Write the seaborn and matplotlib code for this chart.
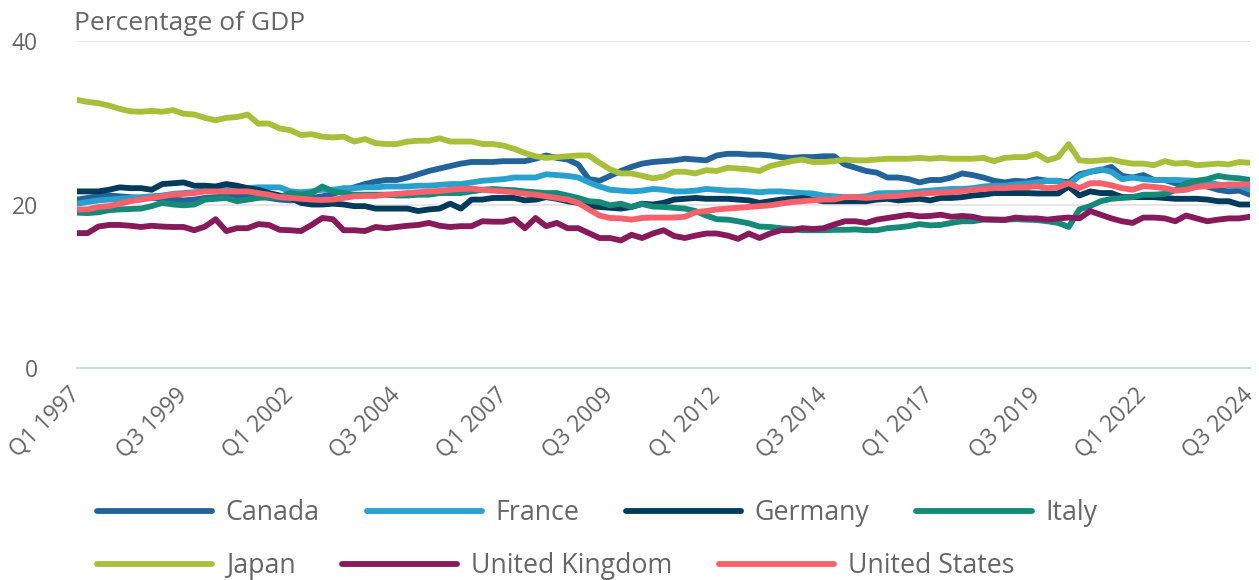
import numpy as np
import pandas as pd
import matplotlib
matplotlib.use("Agg")
import matplotlib.pyplot as plt
import seaborn as sns
from matplotlib.lines import Line2D

# ---------------- data ----------------
quarters = [f"Q{q} {y}" for y in range(1997, 2025) for q in (1, 2, 3, 4)][:111]

countries = ["Canada", "France", "Germany", "Italy", "Japan", "United Kingdom", "United States"]
colors = ["#23639a", "#29a1cf", "#003b5c", "#158a78", "#a8bf3a", "#871a5a", "#f6616b"]

tick_labels = ["Q1 1997", "Q3 1999", "Q1 2002", "Q3 2004", "Q1 2007", "Q3 2009",
               "Q1 2012", "Q3 2014", "Q1 2017", "Q3 2019", "Q1 2022", "Q3 2024"]

canada = [20.6, 20.8, 21.0, 21.1, 21.0, 20.9, 20.8, 20.8, 20.7, 20.6,
          20.5, 20.6, 20.8, 20.9, 21.0, 21.0, 21.1, 21.0, 20.8, 20.6,
          20.5, 20.6, 20.8, 21.0, 21.3, 21.7, 22.1, 22.5, 22.8, 23.0,
          23.0, 23.3, 23.7, 24.1, 24.4, 24.7, 25.0, 25.2, 25.2, 25.2,
          25.3, 25.3, 25.3, 25.6, 26.0, 25.7, 25.5, 24.9, 23.1, 22.9,
          23.5, 24.1, 24.6, 25.0, 25.2, 25.3, 25.4, 25.6, 25.5, 25.4,
          26.0, 26.2, 26.2, 26.1, 26.1, 26.0, 25.8, 25.7, 25.8, 25.8,
          25.9, 25.9, 24.9, 24.5, 24.1, 23.9, 23.3, 23.3, 23.1, 22.7,
          23.0, 23.0, 23.3, 23.8, 23.6, 23.3, 22.9, 22.7, 22.9, 22.8,
          23.1, 22.9, 22.9, 22.7, 23.7, 24.0, 24.2, 24.6, 23.5, 23.3,
          23.6, 23.0, 23.0, 22.6, 22.3, 22.4, 22.2, 21.8, 21.6, 21.7, 21.2]

france = [20.1, 20.3, 20.5, 20.6, 20.7, 20.8, 20.9, 21.0, 21.1, 21.3,
          21.4, 21.5, 21.7, 21.8, 21.9, 22.0, 22.0, 22.1, 22.1, 22.1,
          21.6, 21.5, 21.6, 21.8, 21.8, 22.0, 22.0, 22.1, 22.1, 22.2,
          22.2, 22.2, 22.3, 22.3, 22.4, 22.5, 22.5, 22.7, 22.9, 23.0,
          23.1, 23.3, 23.3, 23.3, 23.7, 23.6, 23.5, 23.3, 22.7, 22.2,
          21.8, 21.7, 21.6, 21.7, 21.9, 21.8, 21.6, 21.6, 21.7, 21.9,
          21.8, 21.7, 21.7, 21.6, 21.5, 21.6, 21.6, 21.5, 21.4, 21.35,
          21.1, 21.0, 20.9, 20.9, 21.0, 21.35, 21.4, 21.4, 21.45, 21.6,
          21.7, 21.8, 21.9, 21.9, 22.0, 22.2, 22.3, 22.3, 22.45, 22.55,
          22.7, 22.9, 22.9, 22.45, 23.5, 24.0, 24.3, 24.0, 23.1, 23.3,
          23.1, 23.0, 23.0, 23.0, 22.95, 22.9, 22.7, 22.45, 22.3, 22.3, 21.8]

germany = [21.6, 21.6, 21.6, 21.8, 22.1, 22.0, 22.0, 21.8, 22.5, 22.6,
           22.7, 22.3, 22.3, 22.2, 22.5, 22.3, 22.0, 21.8, 21.4, 21.1,
           20.8, 20.2, 20.0, 20.0, 20.1, 20.0, 19.8, 19.8, 19.5, 19.5,
           19.5, 19.5, 19.2, 19.4, 19.5, 20.1, 19.5, 20.6, 20.6, 20.8,
           20.8, 20.8, 20.5, 20.6, 20.9, 20.7, 20.4, 20.2, 19.8, 19.7,
           19.6, 19.5, 19.7, 20.1, 20.0, 20.2, 20.6, 20.7, 20.8, 20.7,
           20.7, 20.7, 20.6, 20.5, 20.2, 20.4, 20.6, 20.7, 20.8, 20.6,
           20.4, 20.4, 20.4, 20.4, 20.4, 20.6, 20.7, 20.5, 20.6, 20.7,
           20.5, 20.8, 20.8, 20.9, 21.1, 21.2, 21.4, 21.4, 21.4, 21.4,
           21.35, 21.35, 21.35, 22.2, 21.1, 21.6, 21.4, 21.4, 20.9, 20.9,
           20.9, 20.9, 20.8, 20.7, 20.7, 20.7, 20.6, 20.4, 20.4, 20.0, 20.0]

italy = [19.0, 18.95, 19.05, 19.3, 19.4, 19.45, 19.5, 19.8, 20.2, 20.0,
         19.9, 20.0, 20.6, 20.7, 20.8, 20.4, 20.6, 20.8, 20.9, 20.9,
         21.4, 21.2, 21.4, 22.2, 21.6, 21.4, 21.2, 21.2, 21.2, 21.2,
         21.1, 21.1, 21.2, 21.2, 21.4, 21.4, 21.4, 21.6, 21.8, 21.9,
         21.8, 21.75, 21.6, 21.5, 21.4, 21.4, 21.1, 20.8, 20.4, 20.3,
         19.9, 20.1, 19.7, 20.05, 19.75, 19.7, 19.6, 19.5, 19.2, 18.65,
         18.2, 18.15, 17.95, 17.7, 17.3, 17.25, 17.1, 17.0, 16.85, 16.85,
         16.85, 16.9, 16.9, 16.95, 16.85, 16.85, 17.1, 17.2, 17.35, 17.6,
         17.45, 17.5, 17.75, 17.95, 17.95, 18.15, 18.15, 18.15, 18.2, 18.15,
         18.1, 17.95, 17.75, 17.25, 19.4, 19.8, 20.4, 20.7, 20.8, 20.9,
         21.2, 21.2, 21.3, 21.75, 22.6, 22.9, 23.1, 23.5, 23.3, 23.2, 23.0]

japan = [32.8, 32.55, 32.4, 32.1, 31.7, 31.4, 31.35, 31.45, 31.35, 31.55,
         31.1, 31.0, 30.6, 30.3, 30.6, 30.7, 31.0, 29.9, 29.9, 29.3,
         29.1, 28.5, 28.6, 28.3, 28.2, 28.3, 27.7, 28.0, 27.5, 27.4,
         27.4, 27.7, 27.8, 27.8, 28.1, 27.7, 27.7, 27.7, 27.4, 27.4,
         27.2, 26.8, 26.3, 25.9, 25.7, 25.8, 25.9, 26.0, 26.0, 25.1,
         24.3, 23.8, 23.8, 23.5, 23.2, 23.4, 24.0, 24.0, 23.8, 24.2,
         24.1, 24.5, 24.4, 24.3, 24.1, 24.7, 25.0, 25.3, 25.5, 25.2,
         25.2, 25.3, 25.5, 25.4, 25.4, 25.5, 25.6, 25.6, 25.6, 25.7,
         25.6, 25.7, 25.6, 25.6, 25.6, 25.7, 25.3, 25.7, 25.8, 25.8,
         26.2, 25.4, 25.8, 27.4, 25.4, 25.3, 25.4, 25.5, 25.2, 25.0,
         25.0, 24.8, 25.3, 25.0, 25.1, 24.8, 24.9, 25.0, 24.9, 25.2, 25.1]

uk = [16.5, 16.5, 17.3, 17.5, 17.5, 17.4, 17.25, 17.4, 17.3, 17.25,
      17.25, 16.85, 17.3, 18.2, 16.75, 17.1, 17.1, 17.6, 17.5, 16.9,
      16.85, 16.75, 17.5, 18.35, 18.2, 16.85, 16.85, 16.75, 17.25, 17.1,
      17.25, 17.4, 17.5, 17.75, 17.4, 17.25, 17.35, 17.35, 17.95, 17.9,
      17.9, 18.2, 17.1, 18.35, 17.35, 17.75, 17.1, 17.1, 16.5, 15.9,
      15.9, 15.6, 16.3, 15.9, 16.45, 16.85, 16.15, 15.9, 16.2, 16.45,
      16.45, 16.2, 15.8, 16.45, 15.9, 16.45, 16.85, 16.85, 17.1, 17.0,
      17.1, 17.55, 17.95, 17.95, 17.75, 18.15, 18.35, 18.55, 18.75, 18.55,
      18.6, 18.75, 18.5, 18.6, 18.5, 18.2, 18.15, 18.1, 18.4, 18.3,
      18.3, 18.15, 18.3, 18.4, 18.3, 19.2, 18.75, 18.3, 17.95, 17.75,
      18.4, 18.4, 18.3, 17.95, 18.65, 18.3, 17.95, 18.15, 18.3, 18.3, 18.5]

us = [19.4, 19.4, 19.7, 19.8, 20.1, 20.4, 20.6, 20.8, 21.0, 21.2,
      21.3, 21.4, 21.6, 21.6, 21.6, 21.6, 21.6, 21.4, 21.2, 20.9,
      20.8, 20.7, 20.6, 20.55, 20.6, 20.8, 21.0, 21.05, 21.05, 21.2,
      21.3, 21.4, 21.5, 21.6, 21.65, 21.8, 21.9, 21.95, 21.8, 21.7,
      21.6, 21.5, 21.3, 21.2, 21.0, 20.8, 20.6, 20.2, 19.4, 18.65,
      18.35, 18.3, 18.15, 18.35, 18.4, 18.4, 18.4, 18.5, 19.05, 19.2,
      19.4, 19.5, 19.6, 19.7, 19.8, 19.9, 20.1, 20.3, 20.4, 20.5,
      20.6, 20.6, 20.9, 20.9, 20.8, 20.9, 21.0, 21.05, 21.2, 21.3,
      21.4, 21.45, 21.5, 21.65, 21.8, 21.9, 22.0, 22.0, 22.1, 22.1,
      22.25, 22.0, 22.1, 22.6, 22.0, 22.6, 22.6, 22.35, 22.0, 21.8,
      22.25, 22.15, 22.0, 21.7, 21.8, 22.15, 22.25, 22.35, 22.45, 22.45, 22.45]

series = [canada, france, germany, italy, japan, uk, us]

# ---------------- frame ----------------
rows = []
for name, vals in zip(countries, series):
    for i, v in enumerate(vals):
        rows.append({"idx": i, "quarter": quarters[i], "country": name, "value": v})
df = pd.DataFrame(rows)

sns.set_theme(style="white")
plt.rcParams["font.family"] = ["Open Sans", "DejaVu Sans"]

TXT = "#666666"
fig = plt.figure(figsize=(12.59, 5.80), dpi=100)
ax = fig.add_axes([77 / 1259, 1 - 368 / 580, (1250 - 77) / 1259, (368 - 41) / 580])

# gridlines
for gy in (20, 40):
    ax.axhline(gy, color="#e6e6e6", lw=1.4, zorder=0)

sns.lineplot(data=df, x="idx", y="value", hue="country", hue_order=countries,
             palette=colors, linewidth=4.2, legend=False, ax=ax, sort=True,
             estimator=None)
for ln in ax.lines:
    ln.set_solid_joinstyle("round")
    ln.set_solid_capstyle("round")

ax.set_xlim(0, 110)
ax.set_ylim(0, 40)
ax.set_xlabel("")
ax.set_ylabel("")

ax.set_yticks([0, 20, 40])
ax.set_yticklabels(["0", "20", "40"])
tick_pos = [quarters.index(t) for t in tick_labels]
ax.set_xticks(tick_pos)
ax.set_xticklabels(tick_labels, rotation=45, ha="right", va="center",
                   rotation_mode="anchor")

ax.tick_params(axis="y", length=0, pad=28, labelsize=16.5, labelcolor=TXT)
ax.tick_params(axis="x", length=14, width=1.4, color="#ccd6eb", pad=3,
               labelsize=16.5, labelcolor=TXT, direction="out")

for s in ("top", "right", "left"):
    ax.spines[s].set_visible(False)
ax.spines["bottom"].set_color("#ccd6eb")
ax.spines["bottom"].set_linewidth(1.4)
ax.patch.set_alpha(0)

fig.text(74 / 1259, 1 - 30 / 580, "Percentage of GDP", fontsize=19,
         color=TXT, ha="left", va="baseline")

handles = [Line2D([0], [0], color=c, lw=4.2) for c in colors]
common = dict(frameon=False, fontsize=19.3, handlelength=4.3, handletextpad=0.5,
              columnspacing=1.75, borderpad=0, borderaxespad=0, labelcolor=TXT,
              loc="center left")
leg1 = fig.legend(handles[:4], countries[:4], ncol=4,
                  bbox_to_anchor=(97 / 1259, 1 - 513 / 580), **common)
leg2 = fig.legend(handles[4:], countries[4:], ncol=3,
                  bbox_to_anchor=(97 / 1259, 1 - 566 / 580), **common)

fig.savefig("out.png", dpi=100)
